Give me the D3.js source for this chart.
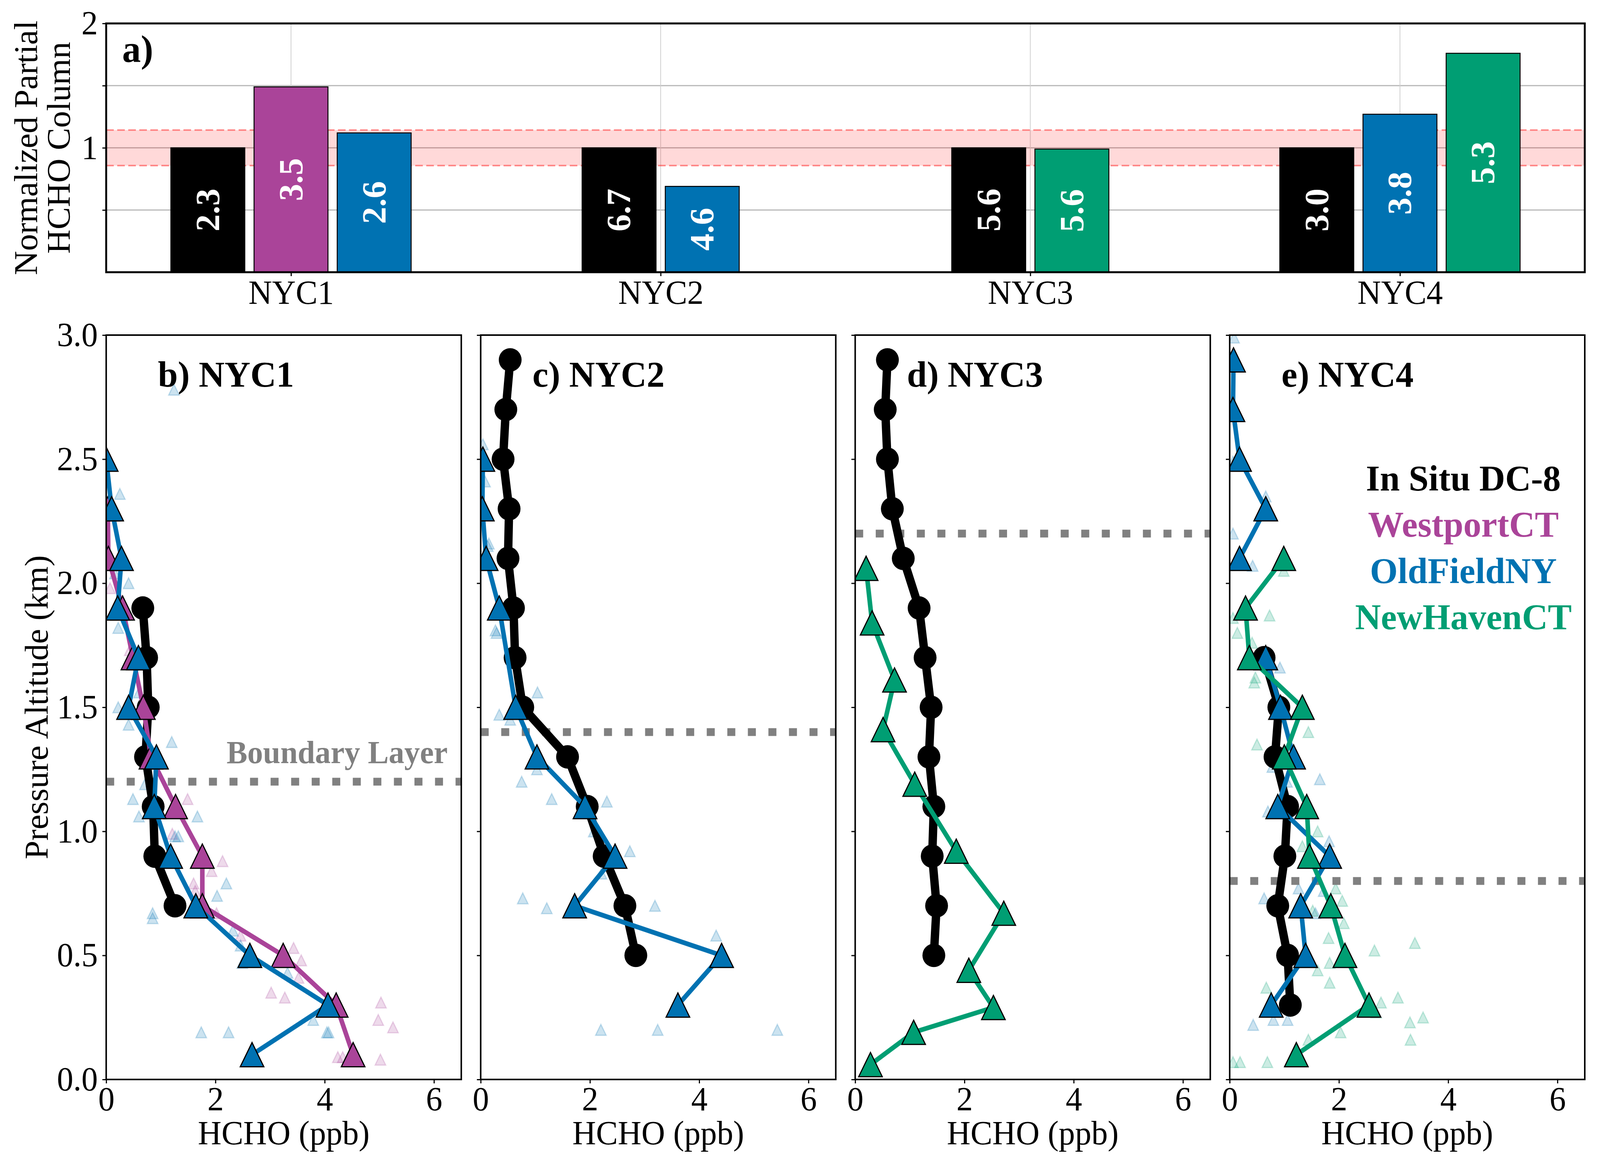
<!DOCTYPE html>
<html>
<head>
<meta charset="utf-8">
<script src="https://cdn.jsdelivr.net/npm/d3@7"></script>
<style>
  html, body { margin: 0; padding: 0; background: #fff; overflow: hidden; }
  #container { width: 100vw; height: 100vh; }
  svg { display: block; width: 100%; height: 100%; }
  text { font-family: "Liberation Serif", "DejaVu Serif", serif; }
</style>
</head>
<body>
<div id="container"></div>
<script>
// ---- data ----
const SITES = ['NYC1', 'NYC2', 'NYC3', 'NYC4'];
const SERIES = ['In Situ DC-8', 'WestportCT', 'OldFieldNY', 'NewHavenCT'];
const COLORS = ['#000000', '#AA4499', '#0072B2', '#009E73'];

// panel a: partial column normalised to the DC-8 value (null = no site data)
const colInSitu   = [1.00, 1.00, 1.00, 1.00];
const colWestport = [1.49, null, null, null];
const colOldField = [1.12, 0.69, null, 1.27];
const colNewHaven = [null, null, 0.99, 1.76];
// numbers printed in the bars
const lblInSitu   = ['2.3', '6.7', '5.6', '3.0'];
const lblWestport = ['3.5', null, null, null];
const lblOldField = ['2.6', '4.6', null, '3.8'];
const lblNewHaven = [null, null, '5.6', '5.3'];
const bandRange = [0.857, 1.143];

// panels b-e: profiles as [HCHO ppb, altitude km]
const nyc1InSitu = [[0.67, 1.9], [0.74, 1.7], [0.77, 1.5], [0.72, 1.3], [0.86, 1.1], [0.89, 0.9], [1.26, 0.7]];
const nyc1Westport = [[0.03, 2.3], [0.04, 2.1], [0.30, 1.9], [0.49, 1.7], [0.68, 1.5], [0.82, 1.3], [1.27, 1.1],
  [1.76, 0.9], [1.76, 0.7], [3.24, 0.5], [4.21, 0.3], [4.52, 0.1]];
const nyc1OldField = [[0.00, 2.5], [0.10, 2.3], [0.28, 2.1], [0.21, 1.9], [0.59, 1.7], [0.41, 1.5], [0.92, 1.3],
  [0.88, 1.1], [1.18, 0.9], [1.64, 0.7], [2.63, 0.5], [4.06, 0.3], [2.67, 0.1]];

const nyc2InSitu = [[0.54, 2.9], [0.46, 2.7], [0.41, 2.5], [0.52, 2.3], [0.50, 2.1], [0.60, 1.9], [0.63, 1.7],
  [0.77, 1.5], [1.59, 1.3], [1.95, 1.1], [2.26, 0.9], [2.64, 0.7], [2.84, 0.5]];
const nyc2OldField = [[0.04, 2.5], [0.03, 2.3], [0.10, 2.1], [0.34, 1.9], [0.64, 1.5], [1.03, 1.3], [1.91, 1.1],
  [2.46, 0.9], [1.72, 0.7], [4.41, 0.5], [3.61, 0.3]];

const nyc3InSitu = [[0.59, 2.9], [0.55, 2.7], [0.59, 2.5], [0.68, 2.3], [0.88, 2.1], [1.17, 1.9], [1.28, 1.7],
  [1.39, 1.5], [1.35, 1.3], [1.44, 1.1], [1.41, 0.9], [1.49, 0.7], [1.44, 0.5]];
const nyc3NewHaven = [[0.20, 2.06], [0.31, 1.84], [0.72, 1.61], [0.51, 1.41], [1.09, 1.19], [1.85, 0.92],
  [2.72, 0.67], [2.08, 0.44], [2.53, 0.29], [1.07, 0.19], [0.28, 0.06]];

const nyc4InSitu = [[0.63, 1.7], [0.90, 1.5], [0.83, 1.3], [1.06, 1.1], [1.01, 0.9], [0.88, 0.7], [1.06, 0.5], [1.11, 0.3]];
const nyc4OldField = [[0.07, 2.9], [0.06, 2.7], [0.18, 2.5], [0.66, 2.3], [0.18, 2.1], [null, 1.9], [0.66, 1.7],
  [0.93, 1.5], [1.17, 1.3], [0.88, 1.1], [1.83, 0.9], [1.30, 0.7], [1.39, 0.5], [0.76, 0.3]];
const nyc4NewHaven = [[0.99, 2.1], [0.29, 1.9], [0.36, 1.7], [1.33, 1.5], [1.00, 1.3], [1.41, 1.1], [1.46, 0.9],
  [1.85, 0.7], [2.11, 0.5], [2.55, 0.3], [1.22, 0.1]];

// individual site retrievals (faint symbols)
const nyc1WestportPts = [[0.07, 1.98], [0.43, 1.73], [1.49, 1.13], [1.21, 0.99], [2.13, 0.88], [1.93, 0.84],
  [1.60, 0.79], [1.63, 0.76], [2.02, 0.67], [2.46, 0.58], [3.43, 0.53], [3.57, 0.48], [3.52, 0.41], [3.02, 0.35],
  [3.27, 0.33], [5.03, 0.31], [4.98, 0.24], [5.25, 0.21], [4.24, 0.09], [4.33, 0.09], [5.02, 0.08]];
const nyc1OldFieldPts = [[1.24, 2.78], [0.25, 2.36], [0.41, 2.00], [0.16, 2.04], [0.22, 1.82], [0.22, 1.50],
  [0.41, 1.43], [0.60, 1.56], [1.20, 1.36], [0.63, 1.32], [0.71, 1.19], [0.49, 1.13], [0.60, 1.06], [1.67, 1.06],
  [1.26, 0.98], [1.32, 0.98], [2.20, 0.79], [2.03, 0.74], [0.85, 0.67], [0.85, 0.65], [2.32, 0.60], [2.46, 0.54],
  [2.49, 0.47], [3.32, 0.43], [3.79, 0.24], [4.04, 0.19], [4.07, 0.19], [1.74, 0.19], [2.24, 0.19]];
const nyc2OldFieldPts = [[0.04, 2.56], [0.08, 2.41], [0.15, 2.16], [0.13, 2.15], [0.27, 1.81], [0.29, 1.80],
  [1.04, 1.56], [0.34, 1.47], [0.54, 1.45], [0.75, 1.20], [1.03, 1.25], [1.30, 1.13], [2.31, 1.12], [2.07, 1.00],
  [2.73, 0.92], [2.21, 0.83], [0.77, 0.73], [1.21, 0.69], [3.19, 0.70], [4.31, 0.58], [2.20, 0.20], [3.24, 0.20],
  [5.43, 0.20]];
const nyc4OldFieldPts = [[0.08, 2.99], [0.10, 2.69], [0.06, 2.49], [0.66, 2.35], [0.06, 2.20], [0.42, 2.07],
  [0.92, 1.66], [0.78, 1.26], [1.05, 1.20], [1.65, 1.21], [0.70, 1.08], [1.82, 0.96], [1.26, 0.77], [0.63, 0.73],
  [1.72, 0.76], [1.57, 0.67], [0.43, 0.22], [0.80, 0.24], [1.06, 0.24]];
const nyc4NewHavenPts = [[0.99, 2.05], [0.06, 1.86], [0.14, 1.80], [0.73, 1.87], [0.41, 1.76], [0.47, 1.62],
  [0.45, 1.60], [1.44, 1.40], [0.50, 1.35], [1.61, 1.00], [1.33, 0.94], [1.94, 0.77], [2.06, 0.72], [1.52, 0.68],
  [2.09, 0.63], [1.81, 0.57], [3.39, 0.55], [2.65, 0.52], [1.83, 0.47], [1.61, 0.44], [1.83, 0.39], [0.67, 0.37],
  [2.77, 0.31], [3.08, 0.33], [2.68, 0.27], [3.30, 0.23], [3.54, 0.25], [2.03, 0.19], [1.44, 0.16], [3.31, 0.16],
  [0.06, 0.07], [0.19, 0.07], [0.69, 0.07]];

const boundaryLayer = [1.2, 1.4, 2.2, 0.8];
const PANEL_TITLES = ['b) NYC1', 'c) NYC2', 'd) NYC3', 'e) NYC4'];
const X_TICKS = [0, 2, 4, 6];
const Y_TICKS = [0, 0.5, 1, 1.5, 2, 2.5, 3];

// ---- layout ----
const W = 4204, H = 2983;
const FONT = 86;
// the drawing fills whatever viewport the page is given
const svg = d3.select('#container').append('svg')
  .attr('viewBox', [0, 0, W, H])
  .attr('preserveAspectRatio', 'none');

// ===== panel a =====
const boxA = { l: 279, r: 4164, t: 60, b: 697 };
const xa = d3.scaleLinear().domain([-0.5, 3.5]).range([boxA.l, boxA.r]);
const ya = d3.scaleLinear().domain([0, 2]).range([boxA.b, boxA.t]);
const ga = svg.append('g');

ga.selectAll('line.hgrid').data([0.5, 1, 1.5]).join('line')
  .attr('x1', boxA.l).attr('x2', boxA.r).attr('y1', d => ya(d)).attr('y2', d => ya(d))
  .attr('stroke', '#b8b8b8').attr('stroke-width', 3);
ga.selectAll('line.vgrid').data(d3.range(SITES.length)).join('line')
  .attr('x1', d => xa(d)).attr('x2', d => xa(d)).attr('y1', boxA.t).attr('y2', boxA.b)
  .attr('stroke', '#cfcfcf').attr('stroke-width', 2);

ga.append('rect')
  .attr('x', boxA.l).attr('width', boxA.r - boxA.l)
  .attr('y', ya(bandRange[1])).attr('height', ya(bandRange[0]) - ya(bandRange[1]))
  .attr('fill', 'rgba(255,0,0,0.15)');
ga.selectAll('line.band').data(bandRange).join('line')
  .attr('x1', boxA.l).attr('x2', boxA.r).attr('y1', d => ya(d)).attr('y2', d => ya(d))
  .attr('stroke', 'rgba(255,0,0,0.42)').attr('stroke-width', 4).attr('stroke-dasharray', '20 9');

const colSeries = [colInSitu, colWestport, colOldField, colNewHaven];
const lblSeries = [lblInSitu, lblWestport, lblOldField, lblNewHaven];
const bars = [];
SITES.forEach((site, i) => {
  const present = colSeries.map((s, k) => k).filter(k => colSeries[k][i] != null);
  present.forEach((k, j) => {
    bars.push({ pos: i + (j - (present.length - 1) / 2) * 0.225, v: colSeries[k][i], label: lblSeries[k][i], color: COLORS[k] });
  });
});
const barW = xa(0.2) - xa(0);
ga.selectAll('rect.bar').data(bars).join('rect')
  .attr('x', d => xa(d.pos) - barW / 2).attr('width', barW)
  .attr('y', d => ya(d.v)).attr('height', d => ya(0) - ya(d.v))
  .attr('fill', d => d.color).attr('stroke', '#000').attr('stroke-width', 2.5);
ga.selectAll('text.val').data(bars).join('text')
  .attr('transform', d => `translate(${xa(d.pos)},${(ya(d.v) + ya(0)) / 2}) rotate(-90)`)
  .attr('text-anchor', 'middle').attr('dominant-baseline', 'central')
  .attr('fill', '#fff').attr('font-weight', 'bold').attr('font-size', 88)
  .text(d => d.label);

const axA = ga.append('g').attr('transform', `translate(${boxA.l},0)`)
  .call(d3.axisLeft(ya).tickValues([0.5, 1, 1.5, 2]).tickFormat(d => Number.isInteger(d) ? d : '').tickSize(10).tickPadding(12));
const axB = ga.append('g').attr('transform', `translate(0,${boxA.b})`)
  .call(d3.axisBottom(xa).tickValues(d3.range(SITES.length)).tickFormat(i => SITES[i]).tickSize(10).tickPadding(10));
[axA, axB].forEach(ax => {
  ax.select('.domain').remove();
  ax.selectAll('line').attr('stroke-width', 3);
  ax.selectAll('text').attr('font-size', FONT).attr('font-family', '"Liberation Serif", serif').attr('fill', '#000');
});
ga.append('rect').attr('x', boxA.l).attr('y', boxA.t).attr('width', boxA.r - boxA.l).attr('height', boxA.b - boxA.t)
  .attr('fill', 'none').attr('stroke', '#000').attr('stroke-width', 5);
ga.append('text').attr('x', 321).attr('y', 158).attr('font-weight', 'bold').attr('font-size', 98).text('a)');
ga.append('text').attr('transform', `translate(97,${(boxA.t + boxA.b) / 2}) rotate(-90)`)
  .attr('text-anchor', 'middle').attr('font-size', FONT).text('Normalized Partial');
ga.append('text').attr('transform', `translate(184,${(boxA.t + boxA.b) / 2}) rotate(-90)`)
  .attr('text-anchor', 'middle').attr('font-size', FONT).text('HCHO Column');

// ===== panels b-e =====
const profiles = [
  { lines: [[0, nyc1InSitu], [1, nyc1Westport], [2, nyc1OldField]], pts: [[1, nyc1WestportPts], [2, nyc1OldFieldPts]] },
  { lines: [[0, nyc2InSitu], [2, nyc2OldField]], pts: [[2, nyc2OldFieldPts]] },
  { lines: [[0, nyc3InSitu], [3, nyc3NewHaven]], pts: [] },
  { lines: [[0, nyc4InSitu], [2, nyc4OldField], [3, nyc4NewHaven]], pts: [[2, nyc4OldFieldPts], [3, nyc4NewHavenPts]] }
];
const bot = { l0: 279, step: 984, w: 933, t: 858, b: 2764 };
const tri = h => `M0,${-h}L${h},${h}L${-h},${h}Z`;

profiles.forEach((p, i) => {
  const left = bot.l0 + i * bot.step;
  const x = d3.scaleLinear().domain([0, 6.5]).range([left, left + bot.w]);
  const y = d3.scaleLinear().domain([0, 3]).range([bot.b, bot.t]);
  const g = svg.append('g');

  svg.append('clipPath').attr('id', 'clip' + i).append('rect')
    .attr('x', left).attr('y', bot.t).attr('width', bot.w).attr('height', bot.b - bot.t);
  const plot = g.append('g').attr('clip-path', `url(#clip${i})`);

  // faint individual points
  p.pts.forEach(([k, pts]) => {
    plot.append('g').selectAll('path').data(pts).join('path')
      .attr('transform', d => `translate(${x(d[0])},${y(d[1])})`)
      .attr('d', tri(14))
      .attr('fill', COLORS[k]).attr('fill-opacity', 0.2)
      .attr('stroke', COLORS[k]).attr('stroke-opacity', 0.22).attr('stroke-width', 3);
  });

  plot.append('line')
    .attr('x1', left).attr('x2', left + bot.w).attr('y1', y(boundaryLayer[i])).attr('y2', y(boundaryLayer[i]))
    .attr('stroke', '#808080').attr('stroke-width', 20).attr('stroke-dasharray', '21 33');

  const line = d3.line().defined(d => d[0] != null).x(d => x(d[0])).y(d => y(d[1]));
  p.lines.forEach(([k, data]) => {
    plot.append('path').datum(data).attr('d', line)
      .attr('fill', 'none').attr('stroke', COLORS[k])
      .attr('stroke-width', k === 0 ? 22 : 12).attr('stroke-linejoin', 'round');
    const valid = data.filter(d => d[0] != null);
    if (k === 0) {
      plot.append('g').selectAll('circle').data(valid).join('circle')
        .attr('cx', d => x(d[0])).attr('cy', d => y(d[1])).attr('r', 30).attr('fill', '#000');
    } else {
      plot.append('g').selectAll('path').data(valid).join('path')
        .attr('transform', d => `translate(${x(d[0])},${y(d[1])})`)
        .attr('d', tri(31)).attr('fill', COLORS[k]).attr('stroke', '#000').attr('stroke-width', 3);
    }
  });

  const ax = g.append('g').attr('transform', `translate(0,${bot.b})`)
    .call(d3.axisBottom(x).tickValues(X_TICKS).tickFormat(d3.format('d')).tickSize(10).tickPadding(8));
  const ay = g.append('g').attr('transform', `translate(${left},0)`)
    .call(d3.axisLeft(y).tickValues(Y_TICKS).tickFormat(i === 0 ? d3.format('.1f') : '').tickSize(10).tickPadding(12));
  [ax, ay].forEach(a => {
    a.select('.domain').remove();
    a.selectAll('line').attr('stroke-width', 3);
    a.selectAll('text').attr('font-size', FONT).attr('font-family', '"Liberation Serif", serif').attr('fill', '#000');
  });
  g.append('rect').attr('x', left).attr('y', bot.t).attr('width', bot.w).attr('height', bot.b - bot.t)
    .attr('fill', 'none').attr('stroke', '#000').attr('stroke-width', 4);

  g.append('text').attr('x', left + 136).attr('y', 990)
    .attr('font-weight', 'bold').attr('font-size', 94).text(PANEL_TITLES[i]);
  g.append('text').attr('x', left + bot.w / 2).attr('y', 2930)
    .attr('text-anchor', 'middle').attr('font-size', FONT).text('HCHO (ppb)');

  if (i === 0) {
    g.append('text').attr('x', x(6.25)).attr('y', y(1.275)).attr('text-anchor', 'end')
      .attr('font-weight', 'bold').attr('font-size', 82).attr('fill', '#808080').text('Boundary Layer');
    g.append('text').attr('transform', `translate(125,${(bot.t + bot.b) / 2}) rotate(-90)`)
      .attr('text-anchor', 'middle').attr('font-size', FONT).text('Pressure Altitude (km)');
  }
  if (i === 3) {
    g.append('g').selectAll('text').data(SERIES).join('text')
      .attr('x', 3845).attr('y', (d, k) => 1256 + k * 118.5)
      .attr('text-anchor', 'middle').attr('font-weight', 'bold').attr('font-size', 94)
      .attr('fill', (d, k) => COLORS[k]).text(d => d);
  }
});
</script>
</body>
</html>
